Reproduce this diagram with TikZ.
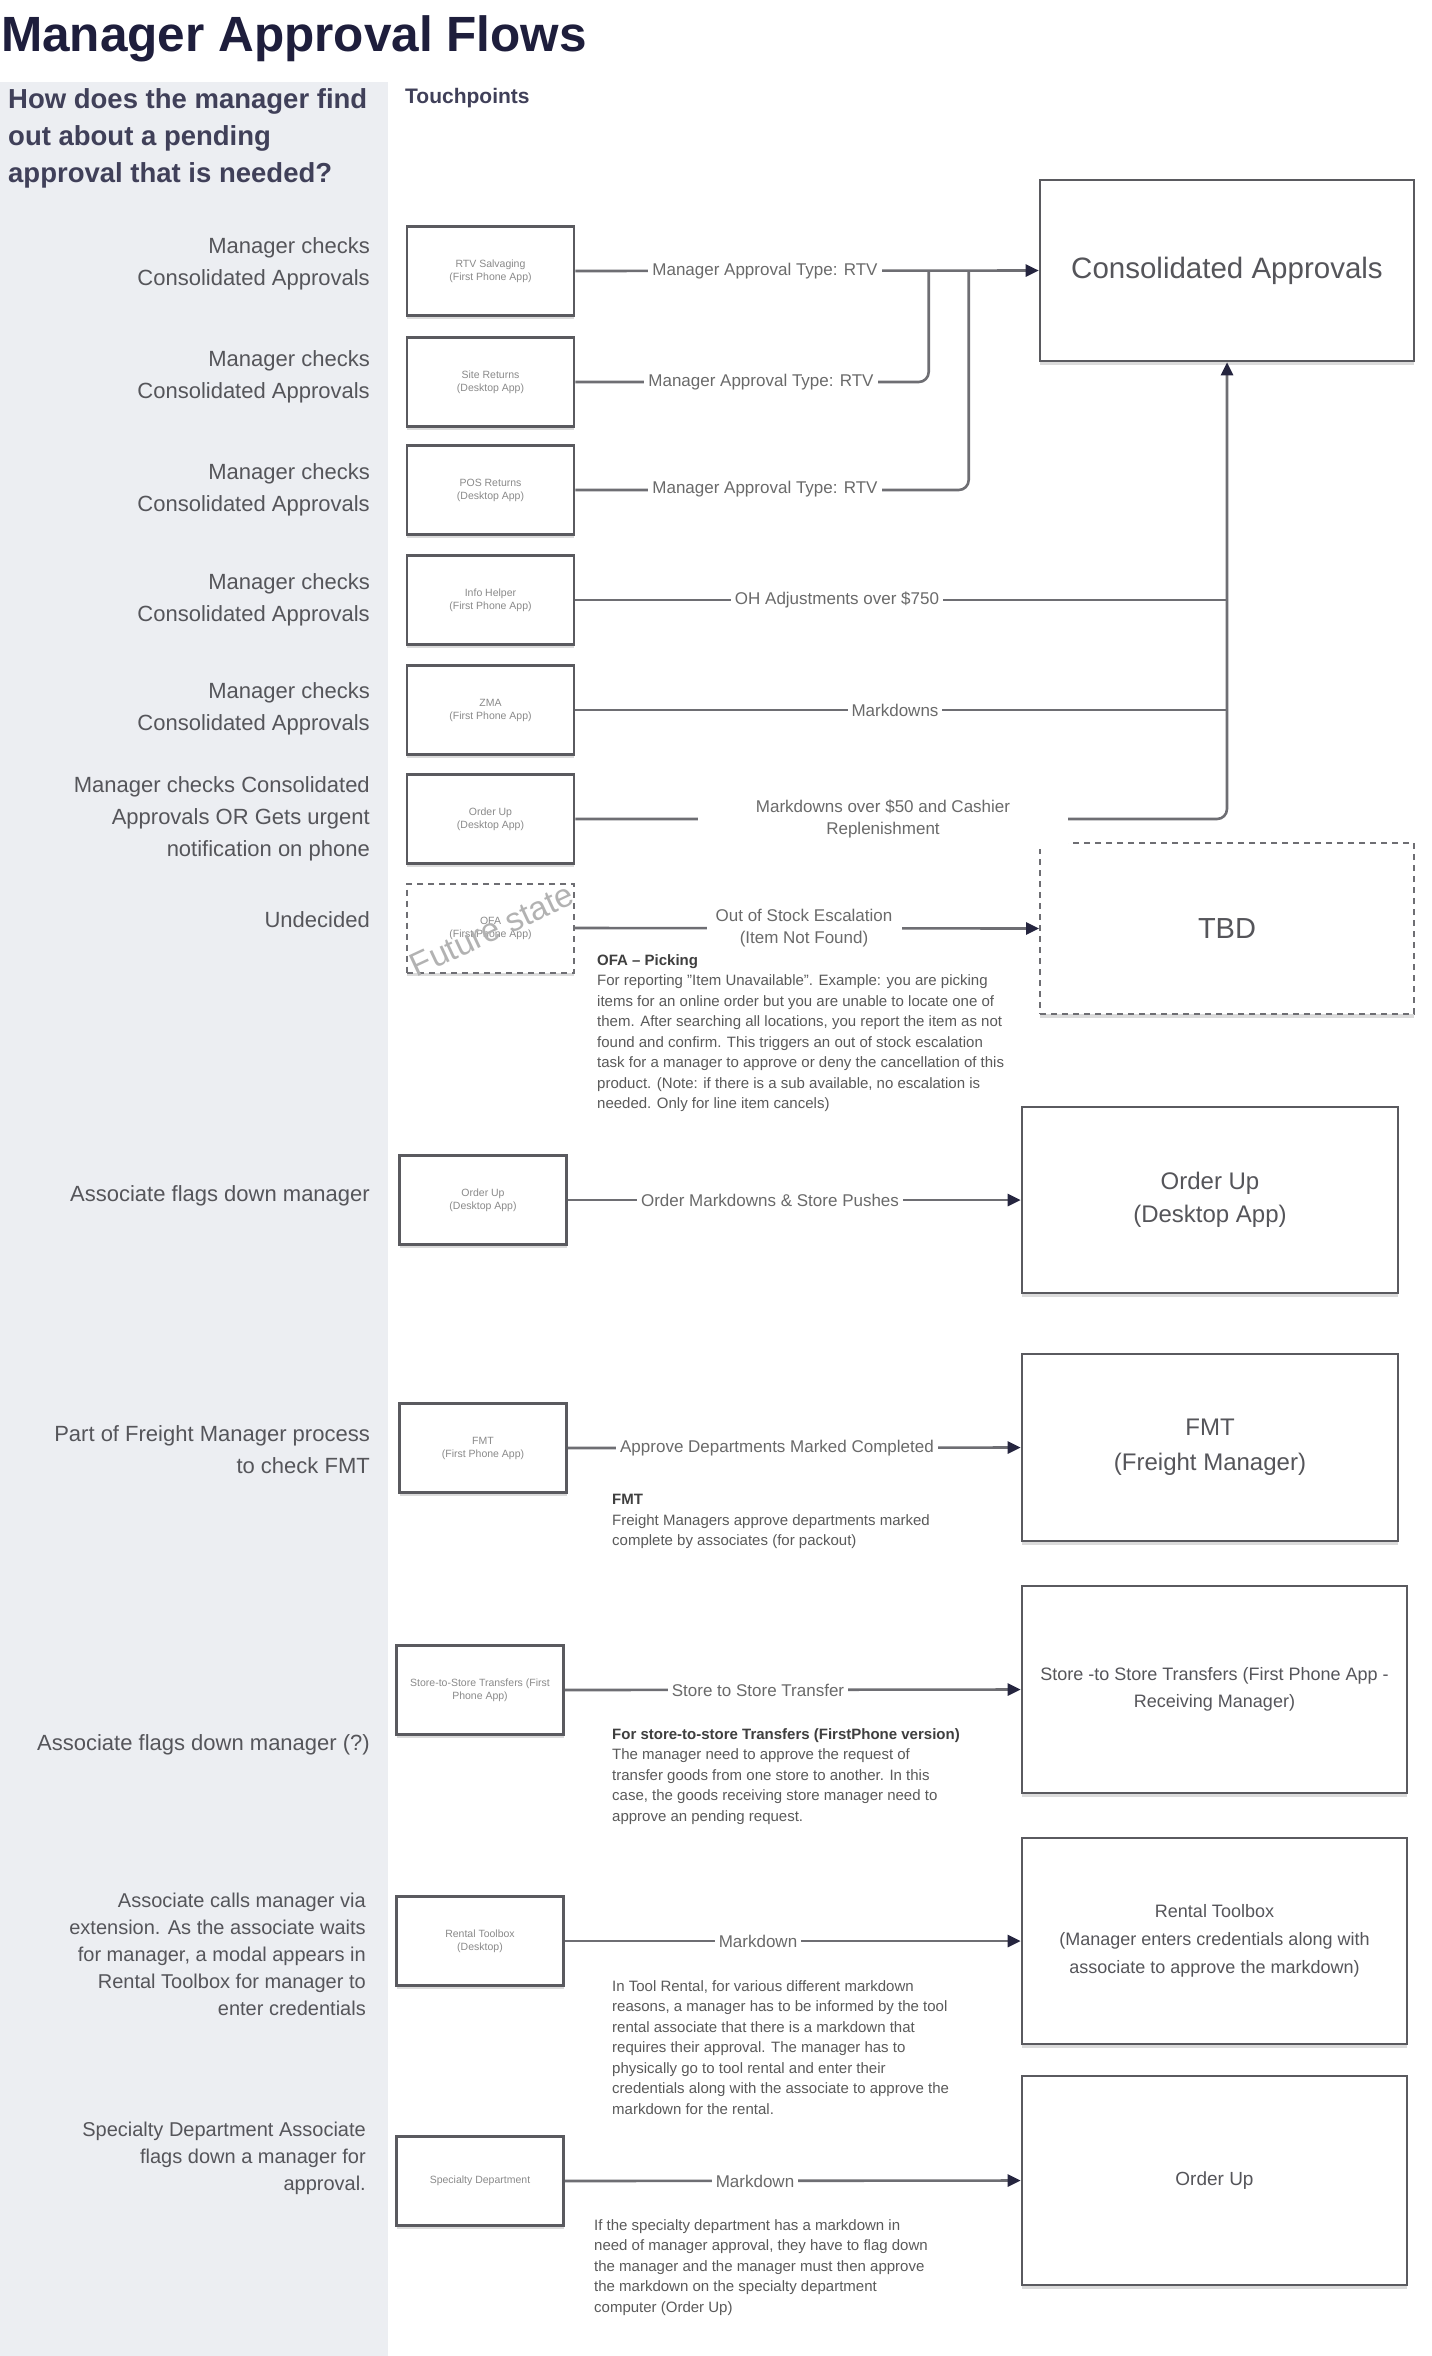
\documentclass[tikz,border=0pt]{standalone}
\usepackage{fontspec}
\setmainfont{Liberation Sans}
\usetikzlibrary{arrows.meta,calc,shadows}
\definecolor{panel}{HTML}{ECEEF2}
\definecolor{boxc}{HTML}{5A5A5F}
\definecolor{linec}{HTML}{6E6E73}
\definecolor{arrc}{HTML}{25253F}
\definecolor{titlec}{HTML}{1E1E3C}
\definecolor{labc}{HTML}{55555A}
\definecolor{elabc}{HTML}{6A6A6A}
\definecolor{notec}{HTML}{5A5A5A}
\definecolor{tpc}{HTML}{8A8A8A}
\tikzset{
  shad/.style={drop shadow={shadow xshift=0pt, shadow yshift=-3.5pt, fill=black!14, opacity=1}},
  tp/.style={draw=boxc, line width=2.6pt, fill=white, shad, minimum width=167pt, minimum height=89pt, inner sep=2pt, font=\fontsize{10.5}{13}\selectfont, text=tpc, align=center},
  big/.style={draw=boxc, line width=2.6pt, fill=white, shad, inner sep=4pt, align=center, text=labc},
  conn/.style={draw=linec, line width=2.6pt},
  arr/.style={conn, -{Triangle[length=13pt,width=12pt,color=arrc]}},
  elab/.style={fill=white, text=elabc, font=\fontsize{17}{22}\selectfont, inner sep=4pt, align=center},
  llab/.style={anchor=east, align=right, text=labc, font=\fontsize{22}{32}\selectfont, inner sep=0pt},
  llabs/.style={anchor=east, align=right, text=labc, font=\fontsize{20}{27}\selectfont, inner sep=0pt},
  note/.style={anchor=north west, align=left, text=notec, font=\fontsize{15}{20.5}\selectfont, inner sep=0pt},
}
\begin{document}
\begin{tikzpicture}[x=1pt,y=-1pt]
\useasboundingbox (0,0) rectangle (1432,2356);
\fill[white] (0,0) rectangle (1432,2356);
\fill[panel] (0,82) rectangle (388,2356);

% title and headers
\node[anchor=base west, inner sep=0pt, text=titlec, font=\fontsize{49.5}{56}\selectfont\bfseries] (title) at (1,51) {Manager Approval Flows};
\node[anchor=west, align=left, inner sep=0pt, text=titlec!85, font=\fontsize{27.5}{37}\selectfont\bfseries] (q) at (8,138) {How does the manager find\\out about a pending\\approval that is needed?};
\node[anchor=west, inner sep=0pt, text=titlec!85, font=\fontsize{21}{24}\selectfont\bfseries] (tps) at (405,98) {Touchpoints};

% touchpoint boxes
\node[tp] (b1) at (490.5,271) {RTV Salvaging\\(First Phone App)};
\node[tp] (b2) at (490.5,382) {Site Returns\\(Desktop App)};
\node[tp] (b3) at (490.5,490) {POS Returns\\(Desktop App)};
\node[tp] (b4) at (490.5,600) {Info Helper\\(First Phone App)};
\node[tp] (b5) at (490.5,710) {ZMA\\(First Phone App)};
\node[tp] (b6) at (490.5,819) {Order Up\\(Desktop App)};
\node[tp, draw=linec, line width=2pt, dash pattern=on 6pt off 5pt, drop shadow={opacity=0}] (b7) at (490.5,928) {OFA\\(First Phone App)};
\node[text=gray!60, font=\fontsize{33}{36}\selectfont, rotate=25, inner sep=0pt] (fs) at (492,930) {Future state};
\node[tp] (b8) at (483,1200) {Order Up\\(Desktop App)};
\node[tp] (b9) at (483,1448) {FMT\\(First Phone App)};
\node[tp] (b10) at (480,1690) {Store-to-Store Transfers (First\\Phone App)};
\node[tp] (b11) at (480,1941) {Rental Toolbox\\(Desktop)};
\node[tp] (b12) at (480,2181) {Specialty Department};

% destination boxes
\node[big, minimum width=374pt, minimum height=181pt, font=\fontsize{29.5}{34}\selectfont] (ca) at (1227,270.5) {Consolidated Approvals};
\node[big, draw=linec, line width=2pt, dash pattern=on 6pt off 5pt, drop shadow={opacity=0}, minimum width=374pt, minimum height=171pt, font=\fontsize{29}{34}\selectfont] (tbd) at (1227,928.5) {TBD};
\node[big, minimum width=376pt, minimum height=186pt, font=\fontsize{24}{33}\selectfont] (ou1) at (1210,1200) {Order Up\\(Desktop App)};
\node[big, minimum width=376pt, minimum height=187pt, font=\fontsize{24}{35}\selectfont] (fmt) at (1210,1447.5) {FMT\\(Freight Manager)};
\node[big, minimum width=385pt, minimum height=207pt, font=\fontsize{18}{27}\selectfont] (sts) at (1214.5,1689.5) {Store -to Store Transfers (First Phone App -\\Receiving Manager)};
\node[big, minimum width=385pt, minimum height=206pt, font=\fontsize{18}{28}\selectfont] (rt) at (1214.5,1941) {Rental Toolbox\\(Manager enters credentials along with\\associate to approve the markdown)};
\node[big, minimum width=385pt, minimum height=209pt, font=\fontsize{19}{24}\selectfont] (ou2) at (1214.5,2180.5) {Order Up};

% connectors
\coordinate (j2) at ($(ca.west)+(-110,0)$);
\coordinate (j3) at ($(ca.west)+(-70,0)$);
\draw[arr] (b1.east) -- (ca.west);
\draw[conn, rounded corners=10pt] (b2.east) -| (j2);
\draw[conn, rounded corners=10pt] (b3.east) -| (j3);
\draw[conn] (b4.east) -- (b4.east -| ca.south);
\draw[conn] (b5.east) -- (b5.east -| ca.south);
\draw[arr, rounded corners=10pt] (b6.east) -| (ca.south);
\draw[arr] (b7.east) -- (tbd.west);
\draw[arr] (b8.east) -- (ou1.west);
\draw[arr] (b9.east) -- (fmt.west);
\draw[arr] (b10.east) -- (sts.west);
\draw[arr] (b11.east) -- (rt.west);
\draw[arr] (b12.east) -- (ou2.west);

% connector labels
\node[elab] (e1) at (765,271) {Manager Approval Type: RTV};
\node[elab] (e2) at (761,382) {Manager Approval Type: RTV};
\node[elab] (e3) at (765,489) {Manager Approval Type: RTV};
\node[elab] (e4) at (837,600) {OH Adjustments over \$750};
\node[elab] (e5) at (895,710) {Markdowns};
\node[elab, minimum width=370pt, minimum height=60pt] (e6) at (883,819) {Markdowns over \$50 and Cashier\\Replenishment};
\node[elab, minimum width=195pt] (e7) at (804,928) {Out of Stock Escalation\\(Item Not Found)};
\node[elab] (e8) at (770,1200) {Order Markdowns \& Store Pushes};
\node[elab] (e9) at (777,1448) {Approve Departments Marked Completed};
\node[elab] (e10) at (758,1690) {Store to Store Transfer};
\node[elab] (e11) at (758,1941) {Markdown};
\node[elab] (e12) at (755,2181) {Markdown};

% notes
\node[note] (n1) at (597,954) {\textbf{\color{notec!70!black}OFA -- Picking}\\For reporting "Item Unavailable". Example: you are picking\\items for an online order but you are unable to locate one of\\them. After searching all locations, you report the item as not\\found and confirm. This triggers an out of stock escalation\\task for a manager to approve or deny the cancellation of this\\product. (Note: if there is a sub available, no escalation is\\needed. Only for line item cancels)};
\node[note] (n2) at (612,1494) {\textbf{\color{notec!70!black}FMT}\\Freight Managers approve departments marked\\complete by associates (for packout)};
\node[note] (n3) at (612,1728) {\textbf{\color{notec!70!black}For store-to-store Transfers (FirstPhone version)}\\The manager need to approve the request of\\transfer goods from one store to another. In this\\case, the goods receiving store manager need to\\approve an pending request.};
\node[note] (n4) at (612,1980) {In Tool Rental, for various different markdown\\reasons, a manager has to be informed by the tool\\rental associate that there is a markdown that\\requires their approval. The manager has to\\physically go to tool rental and enter their\\credentials along with the associate to approve the\\markdown for the rental.};
\node[note] (n5) at (594,2219) {If the specialty department has a markdown in\\need of manager approval, they have to flag down\\the manager and the manager must then approve\\the markdown on the specialty department\\computer (Order Up)};

% left labels
\node[llab] (l1) at (370,264) {Manager checks\\Consolidated Approvals};
\node[llab] (l2) at (370,377) {Manager checks\\Consolidated Approvals};
\node[llab] (l3) at (370,490) {Manager checks\\Consolidated Approvals};
\node[llab] (l4) at (370,600) {Manager checks\\Consolidated Approvals};
\node[llab] (l5) at (370,709) {Manager checks\\Consolidated Approvals};
\node[llab] (l6) at (370,819) {Manager checks Consolidated\\Approvals OR Gets urgent\\notification on phone};
\node[llab] (l7) at (370,920) {Undecided};
\node[llab] (l8) at (370,1196) {Associate flags down manager};
\node[llab] (l9) at (370,1450) {Part of Freight Manager process\\to check FMT};
\node[llab] (l10) at (370,1745) {Associate flags down manager (?)};
\node[llabs] (l11) at (366,1954) {Associate calls manager via\\extension. As the associate waits\\for manager, a modal appears in\\Rental Toolbox for manager to\\enter credentials};
\node[llabs] (l12) at (366,2158) {Specialty Department Associate\\flags down a manager for\\approval.};
\end{tikzpicture}
\end{document}
